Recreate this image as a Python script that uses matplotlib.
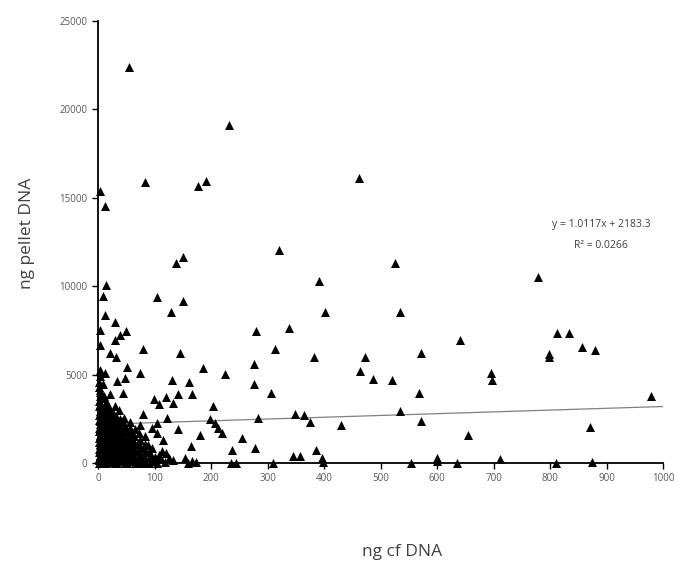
import matplotlib
matplotlib.use("Agg")
import matplotlib.pyplot as plt

# isolated points (ng cf DNA, ng pellet DNA)
cf_scattered = [55, 232, 83, 177, 192, 4, 13, 462, 138, 150, 320, 392, 525, 779,
                14, 8, 105, 151, 130, 401, 535, 12, 30, 49, 39, 4, 280, 338, 30, 4,
                80, 313, 21, 145, 32, 383, 276, 185, 51, 4, 12, 74, 225, 48, 33, 131,
                161, 276, 307, 45, 4, 142, 166, 99, 120, 108, 132, 204, 79, 348, 364,
                283, 123, 375, 199, 207, 213, 219, 105, 142, 104, 180, 254, 89, 164,
                277, 237, 386, 114, 345, 357, 397, 430,
                640, 813, 834, 856, 879, 799, 799, 572, 472, 464, 486, 521, 695, 698,
                568, 978, 534, 572, 870, 654, 554, 600, 600, 636, 711, 810, 874,
                133, 154, 167, 160, 121, 310, 244, 398, 174, 236]
pellet_scattered = [22400, 19100, 15900, 15650, 15950, 15400, 14550, 16100, 11300, 11650,
                    12050, 10300, 11300, 10500,
                    10050, 9450, 9370, 9180, 8520, 8520, 8520, 8370, 7990, 7480, 7240, 7520,
                    7470, 7620, 6960, 6670, 6450, 6430, 6200, 6240, 5980, 6010, 5600, 5370,
                    5450, 5260, 5070, 5110, 5030, 4790, 4660, 4690, 4600, 4470, 3940, 3980,
                    4130, 3900, 3900, 3600, 3750, 3340, 3410, 3220, 2770, 2770, 2720, 2530,
                    2530, 2340, 2490, 2240, 1960, 1680, 2280, 1920, 1720, 1580, 1400, 1020,
                    960, 830, 740, 740, 700, 400, 400, 260, 2150,
                    6960, 7330, 7330, 6580, 6390, 6170, 6010, 6200, 5980, 5220, 4750, 4690,
                    5110, 4690, 3980, 3810, 2940, 2390, 2060, 1580, 0, 260, 100, 0, 200, 0, 70,
                    170, 264, 132, 0, 580, 0, 0, 75, 60, 0]

# dense cloud near the origin
cf_cluster = [1, 2, 1, 3, 2, 1, 3, 2, 1, 3, 2, 1, 3, 2, 1, 3, 2, 1, 3, 2, 1, 3,
              7, 8, 6, 7, 8, 6, 7, 8, 6, 7, 8, 6, 7, 8, 6,
              14, 15, 13, 14, 15, 13, 14, 15, 13, 14, 15, 13, 14,
              22, 21, 23, 22, 21, 23, 22, 21, 23, 22, 21,
              30, 31, 29, 30, 31, 29, 30, 31, 29, 30,
              38, 39, 37, 38, 39, 37, 38, 39, 37,
              47, 46, 48, 47, 46, 48, 47, 46,
              56, 55, 57, 56, 55, 57, 56,
              65, 64, 66, 65, 64, 66,
              74, 73, 75, 74, 73, 75,
              84, 83, 85, 84, 83,
              95, 94, 96, 95,
              105, 112, 118, 108, 125, 115,
              4, 4, 4, 4, 4, 4, 4, 4, 4, 4,
              10, 10, 10, 10, 10, 10, 10, 10, 10, 10, 10, 10, 10,
              18, 18, 18, 18, 18, 18, 18, 18, 18, 18,
              26, 26, 26, 26, 26, 26, 26, 26, 26,
              34, 34, 34, 34, 34, 34, 34, 34, 34,
              42, 42, 42, 42, 42, 42, 42,
              51, 51, 51, 51, 51, 51,
              60, 60, 60, 60, 60,
              70, 70, 70, 70,
              79, 79, 79,
              90, 90, 90,
              100, 100]
pellet_cluster = [0, 150, 300, 450, 600, 800, 1000, 1200, 1400, 1600, 1800, 2000, 2200,
                  2450, 2700, 2950, 3200, 3500, 3800, 4300, 4600, 4900,
                  100, 350, 650, 900, 1150, 1450, 1700, 2000, 2300, 2600, 2900, 3300,
                  3650, 4450, 5100,
                  0, 250, 550, 800, 1050, 1350, 1600, 1900, 2150, 2500, 2800, 3100, 3450,
                  50, 350, 650, 950, 1250, 1550, 1850, 2200, 2600, 3000, 3900,
                  0, 300, 600, 900, 1200, 1500, 1900, 2300, 2700, 3200,
                  100, 400, 750, 1100, 1450, 1800, 2150, 2500, 3000,
                  0, 300, 650, 1000, 1350, 1750, 2100, 2550,
                  100, 450, 800, 1200, 1600, 2000, 2300,
                  0, 350, 700, 1100, 1500, 1950,
                  150, 500, 900, 1300, 1700, 2150,
                  0, 300, 650, 1100, 1500,
                  100, 450, 850, 2000,
                  0, 200, 50, 450, 300, 1300,
                  75, 375, 700, 1100, 1500, 1900, 2350, 2800, 3350, 4000,
                  0, 200, 500, 750, 1000, 1300, 1550, 1850, 2150, 2450, 2750, 3100, 3800,
                  100, 400, 700, 1000, 1300, 1650, 2000, 2350, 2700, 3300,
                  150, 450, 800, 1100, 1400, 1750, 2050, 2450, 2850,
                  0, 200, 500, 800, 1050, 1350, 1700, 2100, 2550,
                  150, 450, 800, 1150, 1550, 1950, 2350,
                  0, 300, 600, 950, 1400, 1800,
                  200, 550, 900, 1300, 1700,
                  0, 300, 750, 1150,
                  100, 450, 850,
                  0, 300, 600,
                  150, 350]

# linear trendline shown on the chart
slope = 1.0117
intercept = 2183.3
r_squared = 0.0266
trend_x = [0, 1000]

x_ticks = [0, 100, 200, 300, 400, 500, 600, 700, 800, 900, 1000]
y_ticks = [0, 5000, 10000, 15000, 20000, 25000]

LABEL_FONT = ['Open Sans', 'DejaVu Sans']


def main():
    fig = plt.figure(figsize=(6.78, 5.65), dpi=100)
    ax = fig.add_axes([98 / 678, 1 - 463 / 565, 565 / 678, 442 / 565])

    cf = cf_scattered + cf_cluster
    pellet = pellet_scattered + pellet_cluster
    ax.scatter(cf, pellet, marker='^', s=42, color='black', linewidths=0,
               clip_on=False, zorder=3)

    trend_y = [slope * x + intercept for x in trend_x]
    ax.plot(trend_x, trend_y, color='#808080', lw=0.9, zorder=2)

    ax.set_xlim(0, 1000)
    ax.set_ylim(0, 25000)
    ax.set_xticks(x_ticks)
    ax.set_yticks(y_ticks)
    ax.tick_params(axis='both', direction='out', length=4, width=1,
                   labelsize=7, labelcolor='#595959', color='black')
    for lab in ax.get_xticklabels() + ax.get_yticklabels():
        lab.set_family(LABEL_FONT)
    ax.spines['top'].set_visible(False)
    ax.spines['right'].set_visible(False)
    ax.spines['left'].set_linewidth(1.3)
    ax.spines['bottom'].set_linewidth(1.3)

    fig.text(601 / 678, 1 - 225 / 565, f'y = {slope}x + {intercept}',
             ha='center', va='center', fontsize=7.5, color='#404040', family=LABEL_FONT)
    fig.text(601 / 678, 1 - 245 / 565, f'R² = {r_squared}',
             ha='center', va='center', fontsize=7.5, color='#404040', family=LABEL_FONT)

    fig.text(402 / 678, 1 - 552 / 565, 'ng cf DNA', ha='center', va='center',
             fontsize=12.5, color='#404040', family=LABEL_FONT)
    fig.text(27 / 678, 1 - 233 / 565, 'ng pellet DNA', ha='center', va='center',
             rotation=90, fontsize=12.5, color='#404040', family=LABEL_FONT)

    fig.savefig('out.png', dpi=100, facecolor='white')
    plt.close(fig)


if __name__ == '__main__':
    main()
